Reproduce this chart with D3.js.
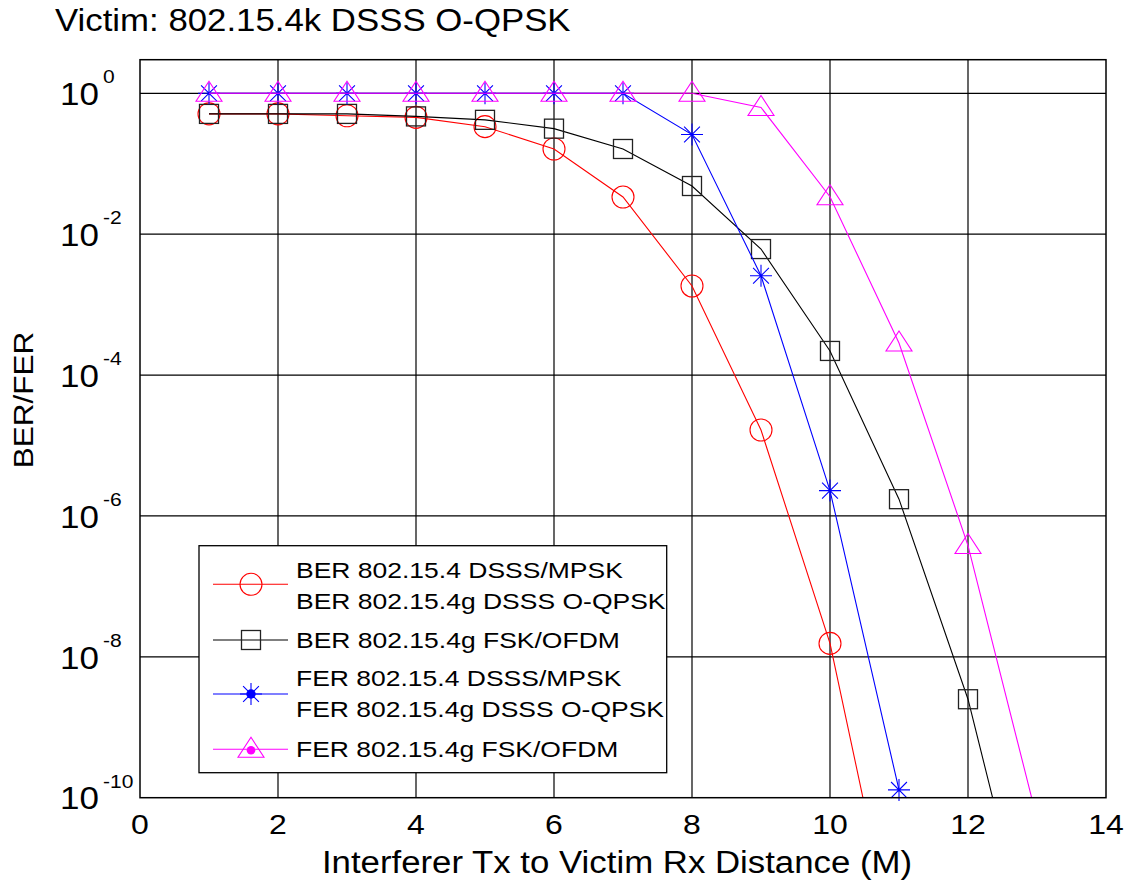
<!DOCTYPE html>
<html>
<head>
<meta charset="utf-8">
<script src="https://cdn.jsdelivr.net/npm/d3@7"></script>
<style>
  body{margin:0;background:#fff;}
  text{font-family:"Liberation Sans",Arial,sans-serif;fill:#000;}
</style>
</head>
<body>
<div id="container"></div>
<script>
let w=1130;
let h=888;

// data
let berDsssX = [1,2,3,4,5,6,7,8,9,10,11];
let berDsss  = [0.51,0.51,0.48,0.456,0.336,0.162,0.0337,1.84e-3,1.66e-5,1.55e-8,4e-13];
let berFskX  = [1,2,3,4,5,6,7,8,9,10,11,12,13];
let berFsk   = [0.51,0.51,0.51,0.47,0.42,0.315,0.162,0.0483,6.15e-3,2.2e-4,1.73e-6,2.5e-9,3e-13];
let ferDsssX = [1,2,3,4,5,6,7,8,9,10,11];
let ferDsss  = [1,1,1,1,1,1,1,0.26,2.57e-3,2.29e-6,1.29e-10];
let ferFskX  = [1,2,3,4,5,6,7,8,9,10,11,12,13];
let ferFsk   = [1,1,1,1,1,1,1,1,0.63,0.034,2.85e-4,3.8e-7,5e-11];

let xTicks = [0,2,4,6,8,10,12,14];
let yExp = [0,-2,-4,-6,-8,-10];

let legendLabels = [
  ["BER 802.15.4 DSSS/MPSK","BER 802.15.4g DSSS O-QPSK"],
  ["BER 802.15.4g FSK/OFDM"],
  ["FER 802.15.4 DSSS/MPSK","FER 802.15.4g DSSS O-QPSK"],
  ["FER 802.15.4g FSK/OFDM"]
];

let squish = 0.88;

let viz = d3.select("#container")
  .append("svg")
    .attr("width",w)
    .attr("height",h)
    .style("background-color","#fff")
;

let x = d3.scaleLinear().domain([0,14]).range([140,1106]);
let y = d3.scaleLog().domain([1e-10,3]).range([797.7,59.7]);

let pLeft = x(0), pRight = x(14), pTop = y(3), pBottom = y(1e-10);

viz.append("defs").append("clipPath").attr("id","plotclip")
  .append("rect")
    .attr("x",pLeft).attr("y",pTop)
    .attr("width",pRight-pLeft).attr("height",pBottom-pTop);

// grid
viz.selectAll(".vgrid").data(xTicks.slice(1,-1)).enter()
  .append("line")
    .attr("x1",d=>x(d)).attr("x2",d=>x(d))
    .attr("y1",pTop).attr("y2",pBottom)
    .attr("stroke","#000").attr("stroke-width",1.2);
viz.selectAll(".hgrid").data(yExp.slice(0,-1)).enter()
  .append("line")
    .attr("x1",pLeft).attr("x2",pRight)
    .attr("y1",d=>y(Math.pow(10,d))).attr("y2",d=>y(Math.pow(10,d)))
    .attr("stroke","#000").attr("stroke-width",1.2);

// markers
function star(s){
  let a = s, b = s*0.72;
  return "M0,"+(-a)+"V"+a+"M"+(-a)+",0H"+a+
    "M"+(-b)+","+(-b)+"L"+b+","+b+"M"+(-b)+","+b+"L"+b+","+(-b);
}
function tri(){
  return "M0,-12L13,8L-13,8Z";
}

let series = [
  {xs:berDsssX, ys:berDsss, color:"#ff0000", mark:"circle"},
  {xs:berFskX,  ys:berFsk,  color:"#000000", mark:"square"},
  {xs:ferDsssX, ys:ferDsss, color:"#0000ff", mark:"star"},
  {xs:ferFskX,  ys:ferFsk,  color:"#ff00ff", mark:"tri"}
];

function drawMark(g,s,big){
  if(s.mark=="circle"){
    g.append("circle").attr("r",11).attr("fill","none").attr("stroke",s.color).attr("stroke-width",1.1);
  }else if(s.mark=="square"){
    g.append("rect").attr("x",-9.5).attr("y",-9.5).attr("width",19).attr("height",19)
      .attr("fill","none").attr("stroke","#222").attr("stroke-width",1.3);
  }else if(s.mark=="star"){
    g.append("path").attr("d",star(11)).attr("fill","none").attr("stroke",s.color).attr("stroke-width",1.1);
    if(big) g.append("circle").attr("r",4.7).attr("fill",s.color);
  }else{
    g.append("path").attr("d",tri()).attr("fill","none").attr("stroke",s.color).attr("stroke-width",1.1);
    if(big) g.append("circle").attr("r",4.3).attr("cy",1).attr("fill",s.color);
  }
}

let line = d3.line().x(d=>x(d[0])).y(d=>y(d[1]));

series.forEach(function(s){
  let pts = s.xs.map((v,i)=>[v,s.ys[i]]);
  viz.append("path")
    .attr("d",line(pts))
    .attr("clip-path","url(#plotclip)")
    .attr("fill","none")
    .attr("stroke",s.color)
    .attr("stroke-width",1.1);
  let marks = viz.selectAll(null).data(pts.filter(p=>p[1]>=1e-10)).enter()
    .append("g")
      .attr("transform",p=>"translate("+x(p[0])+","+y(p[1])+")");
  marks.each(function(){ drawMark(d3.select(this),s,false); });
});

// frame
viz.append("rect")
  .attr("x",pLeft).attr("y",pTop)
  .attr("width",pRight-pLeft).attr("height",pBottom-pTop)
  .attr("fill","none").attr("stroke","#000").attr("stroke-width",1.5);

// tick labels
viz.selectAll(".xtick").data(xTicks).enter()
  .append("text")
    .attr("transform",d=>"translate("+x(d)+",834) scale(1,"+squish+")")
    .attr("text-anchor","middle")
    .style("font-size","32px")
    .text(d=>d);

yExp.forEach(function(e){
  let gy = y(Math.pow(10,e));
  viz.append("text")
    .attr("transform","translate(60,"+(gy+11.7)+") scale(1,"+squish+")")
    .style("font-size","35px")
    .text("10");
  viz.append("text")
    .attr("transform","translate(103,"+(gy-10)+") scale(1,"+squish+")")
    .style("font-size","21px")
    .text(e==0 ? "0" : "-"+Math.abs(e));
});

// titles
viz.append("text")
  .attr("transform","translate(55,31) scale(1,"+squish+")")
  .style("font-size","34.8px")
  .text("Victim: 802.15.4k DSSS O-QPSK");
viz.append("text")
  .attr("transform","translate(617,873) scale(1,"+squish+")")
  .attr("text-anchor","middle")
  .style("font-size","34.8px")
  .text("Interferer Tx to Victim Rx Distance (M)");
viz.append("text")
  .attr("transform","translate(33,400) rotate(-90) scale(1,"+squish+")")
  .attr("text-anchor","middle")
  .style("font-size","31.5px")
  .text("BER/FER");

// legend
let lg = viz.append("g");
lg.append("rect")
  .attr("x",199).attr("y",545.7)
  .attr("width",467.7).attr("height",227)
  .attr("fill","#fff").attr("stroke","#000").attr("stroke-width",1.3);

let lineY = [584.3,640,694,749.3];
let baseY = [[577.7,609],[648.3],[685.7,717.3],[757.3]];

series.forEach(function(s,i){
  lg.append("line")
    .attr("x1",213).attr("x2",288)
    .attr("y1",lineY[i]).attr("y2",lineY[i])
    .attr("stroke",s.color).attr("stroke-width",1.1);
  let m = lg.append("g").attr("transform","translate(251,"+lineY[i]+")");
  drawMark(m,s,true);
  legendLabels[i].forEach(function(t,j){
    lg.append("text")
      .attr("transform","translate(296,"+baseY[i][j]+") scale(1,"+(squish-0.03)+")")
      .style("font-size","26.5px")
      .text(t);
  });
});
</script>
</body>
</html>
